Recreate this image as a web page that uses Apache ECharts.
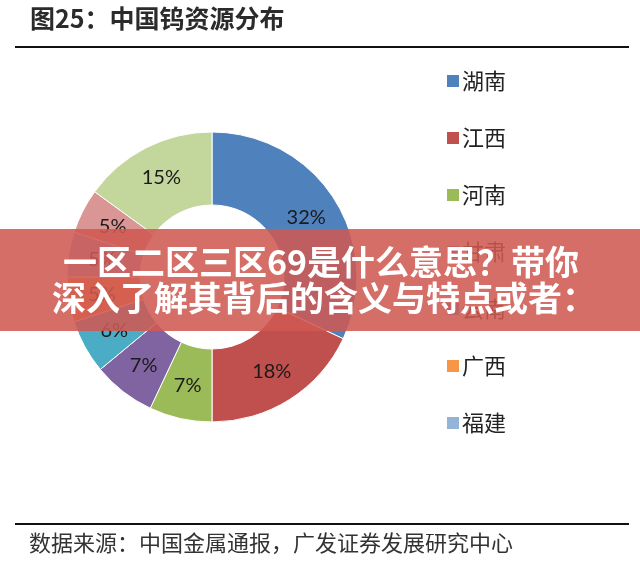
<!DOCTYPE html>
<html>
<head>
<meta charset="utf-8">
<script src="https://cdn.jsdelivr.net/npm/echarts@6/dist/echarts.min.js"></script>
<style>
html,body{margin:0;padding:0;background:#fff;}
#c{width:640px;height:563px;}
</style>
</head>
<body>
<div id="c"></div>
<script>
var categories = ['湖南', '江西', '河南', '甘肃', '云南', '广西', '福建', '广东', '其他'];
var values = [32, 18, 7, 7, 6, 5, 5, 5, 15];
var legendNames = ['湖南', '江西', '河南', '甘肃', '云南', '广西', '福建'];
var colors = ['#4F81BD', '#C0504D', '#9BBB59', '#8064A2', '#4BACC6', '#F79646', '#95B3D7', '#D99694', '#C3D69B'];
var titleText = '图25：中国钨资源分布';
var sourceText = '数据来源：中国金属通报，广发证券发展研究中心';
var bannerLines = ['一区二区三区69是什么意思？带你', '深入了解其背后的含义与特点或者：'];

var chart = echarts.init(document.getElementById('c'), null, {renderer: 'canvas'});
var seriesData = categories.map(function (n, i) {
  return {name: n, value: values[i], itemStyle: {color: colors[i]}};
});
chart.setOption({
  animation: false,
  backgroundColor: '#fff',
  legend: {
    orient: 'vertical',
    left: 440,
    top: 65,
    itemWidth: 14,
    itemHeight: 14,
    itemGap: 35,
    icon: 'rect',
    data: legendNames,
    textStyle: {fontSize: 22, color: '#222', fontFamily: 'Noto Sans CJK SC', padding: [0, 0, 0, -3]}
  },
  series: [{
    type: 'pie',
    center: [212, 277],
    radius: [72, 145],
    startAngle: 90,
    clockwise: true,
    avoidLabelOverlap: false,
    itemStyle: {borderColor: '#fff', borderWidth: 1},
    label: {
      show: true,
      position: 'inside',
      formatter: function (p) { return p.value + '%'; },
      fontSize: 20,
      color: '#1a1a1a',
      fontFamily: 'Lato'
    },
    labelLine: {show: false},
    data: seriesData
  }],
  graphic: [
    {type: 'text', left: 30, top: 6, style: {text: titleText, fontSize: 25, fontWeight: 'bold', fill: '#2b2b2b', fontFamily: 'Noto Sans CJK SC'}},
    {type: 'rect', shape: {x: 15, y: 46, width: 614, height: 2}, style: {fill: '#111'}},
    {type: 'rect', shape: {x: 15, y: 523, width: 614, height: 2}, style: {fill: '#111'}},
    {type: 'text', left: 29, top: 532, style: {text: sourceText, fontSize: 22, fill: '#333', fontFamily: 'Noto Sans CJK SC'}},
    {type: 'rect', z: 100, shape: {x: 0, y: 229, width: 640, height: 102}, style: {fill: 'rgba(208,88,82,0.87)'}},
    {type: 'text', z: 101, x: 321, y: 262, style: {text: bannerLines[0], fontSize: 34, fontWeight: 'bold', fill: '#fff', align: 'center', verticalAlign: 'middle', fontFamily: 'Noto Sans CJK SC'}},
    {type: 'text', z: 101, x: 324, y: 298, style: {text: bannerLines[1], fontSize: 34, fontWeight: 'bold', fill: '#fff', align: 'center', verticalAlign: 'middle', fontFamily: 'Noto Sans CJK SC'}}
  ]
});
</script>
</body>
</html>
